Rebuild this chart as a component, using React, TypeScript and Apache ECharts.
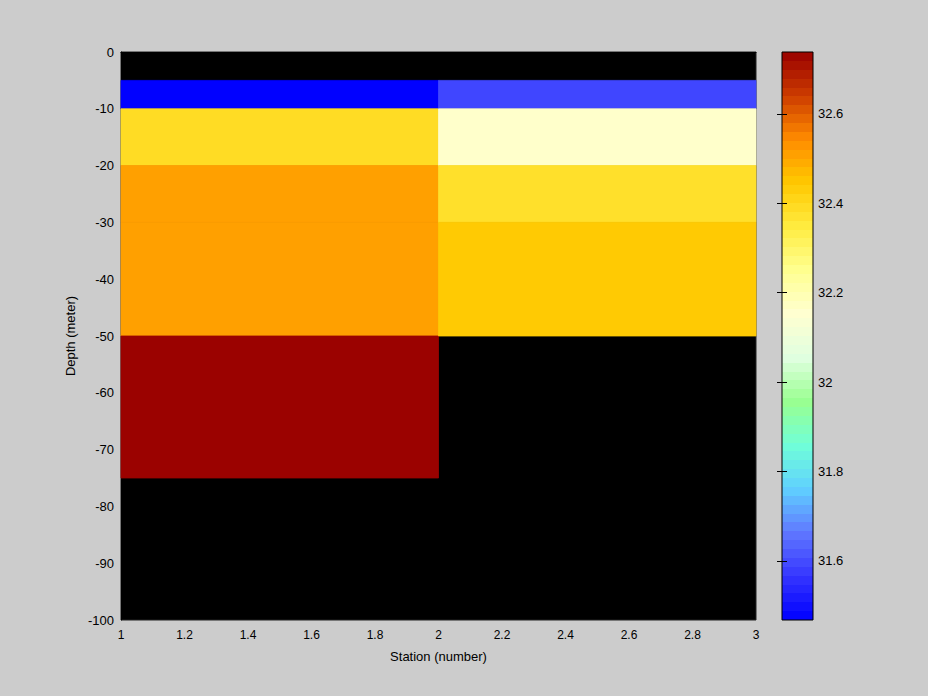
import React, { useEffect, useRef } from "react";
import * as echarts from "echarts";

// Cell edges
const stationEdges = [1, 2, 3];
const depthEdges = [0, -5, -10, -20, -30, -50, -75, -100];
// Salinity per depth layer (top to bottom) for each station column; NaN = no data
const column1 = [NaN, 31.47, 32.39, 32.51, 32.51, 32.735, NaN];
const column2 = [NaN, 31.59, 32.16, 32.38, 32.44, NaN, NaN];
const columns = [column1, column2];

const colorMin = 31.468;
const colorMax = 32.7385;
const colorTicks = [31.6, 31.8, 32, 32.2, 32.4, 32.6];
const colormap = [
  "#0000ff", "#3535ff", "#6078ff", "#60d0ff", "#70ffd8", "#99ff90", "#e0ffe0",
  "#ffffd0", "#ffff90", "#ffec40", "#ffc800", "#ff8c00", "#cc3c00", "#990000",
];
const colorBands = 64;

const FONT = "Liberation Sans";

export default function App() {
  const ref = useRef<HTMLDivElement>(null);
  useEffect(() => {
    document.body.style.margin = "0";
    const chart = echarts.init(ref.current!, null, { renderer: "svg" });
    const cells: any[] = [];
    columns.forEach((col, ci) => {
      col.forEach((v, li) => {
        if (!isNaN(v)) {
          cells.push([stationEdges[ci], stationEdges[ci + 1], depthEdges[li], depthEdges[li + 1], v]);
        }
      });
    });
    // stepped gradient for colorbar (bottom = min)
    const stops: any[] = [];
    for (let i = 0; i < colorBands; i++) {
      const c = echarts.color.lerp((i + 0.5) / colorBands, colormap) as string;
      stops.push({ offset: i / colorBands, color: c });
      stops.push({ offset: (i + 1) / colorBands, color: c });
    }
    const barFill = new echarts.graphic.LinearGradient(0, 1, 0, 0, stops);

    const textStyle = { color: "#000", fontFamily: FONT, fontSize: 13 };
    chart.setOption({
      animation: false,
      backgroundColor: "#cccccc",
      grid: [
        { left: 121, top: 52, width: 635, height: 568, show: true, backgroundColor: "#000", borderColor: "#222", borderWidth: 1 },
        { left: 782, top: 52, width: 31, height: 568, show: true, backgroundColor: "transparent", borderColor: "#000", borderWidth: 1, z: 10 },
      ],
      xAxis: [
        {
          gridIndex: 0, type: "value", min: 1, max: 3, interval: 0.2,
          axisLine: { show: true, lineStyle: { color: "#000" } },
          axisTick: { show: false },
          splitLine: { show: false },
          axisLabel: { ...textStyle, fontSize: 12, margin: 9 },
          name: "Station (number)", nameLocation: "middle", nameGap: 30,
          nameTextStyle: { ...textStyle },
        },
        { gridIndex: 1, type: "value", show: false, min: 0, max: 1 },
      ],
      yAxis: [
        {
          gridIndex: 0, type: "value", min: -100, max: 0, interval: 10,
          axisLine: { show: true, lineStyle: { color: "#000" } },
          axisTick: { show: false },
          splitLine: { show: false },
          axisLabel: { ...textStyle, margin: 7 },
          name: "Depth (meter)", nameLocation: "middle", nameGap: 40,
          nameTextStyle: { ...textStyle },
        },
        {
          gridIndex: 1, type: "value", position: "right", min: colorMin, max: colorMax, z: 10,
          axisLine: { show: false },
          axisTick: { show: true, inside: true, length: 5, lineStyle: { color: "#000" }, customValues: colorTicks },
          axisLabel: { ...textStyle, margin: 5, customValues: colorTicks, formatter: (v: number) => String(+v.toFixed(1)) },
          splitLine: { show: false },
        },
        {
          gridIndex: 1, type: "value", position: "left", min: colorMin, max: colorMax, z: 10,
          axisLine: { show: false },
          axisTick: { show: true, inside: true, length: 5, lineStyle: { color: "#000" }, customValues: colorTicks },
          axisLabel: { show: false, customValues: colorTicks },
          splitLine: { show: false },
        },
      ],
      visualMap: {
        type: "continuous",
        show: false,
        min: colorMin,
        max: colorMax,
        dimension: 4,
        seriesIndex: 0,
        inRange: { color: colormap },
      },
      series: [
        {
          type: "custom",
          xAxisIndex: 0,
          yAxisIndex: 0,
          data: cells,
          encode: { x: [0, 1], y: [2, 3] },
          renderItem: (params: any, api: any) => {
            const p0 = api.coord([api.value(0), api.value(2)]);
            const p1 = api.coord([api.value(1), api.value(3)]);
            const c = api.visual("color");
            return {
              type: "rect",
              shape: { x: p0[0], y: p0[1], width: p1[0] - p0[0], height: p1[1] - p0[1] },
              style: { fill: c, stroke: c, lineWidth: 0.8 },
            };
          },
        },
        {
          type: "custom",
          xAxisIndex: 1,
          yAxisIndex: 1,
          z: 5,
          data: [[0, 1, colorMin, colorMax]],
          renderItem: (params: any, api: any) => {
            const p0 = api.coord([api.value(0), api.value(3)]);
            const p1 = api.coord([api.value(1), api.value(2)]);
            return {
              type: "rect",
              shape: { x: p0[0], y: p0[1], width: p1[0] - p0[0], height: p1[1] - p0[1] },
              style: { fill: barFill },
            };
          },
        },
      ],
    });
    return () => chart.dispose();
  }, []);
  return <div ref={ref} style={{ width: 928, height: 696, position: "absolute", left: 0, top: 0 }} />;
}
